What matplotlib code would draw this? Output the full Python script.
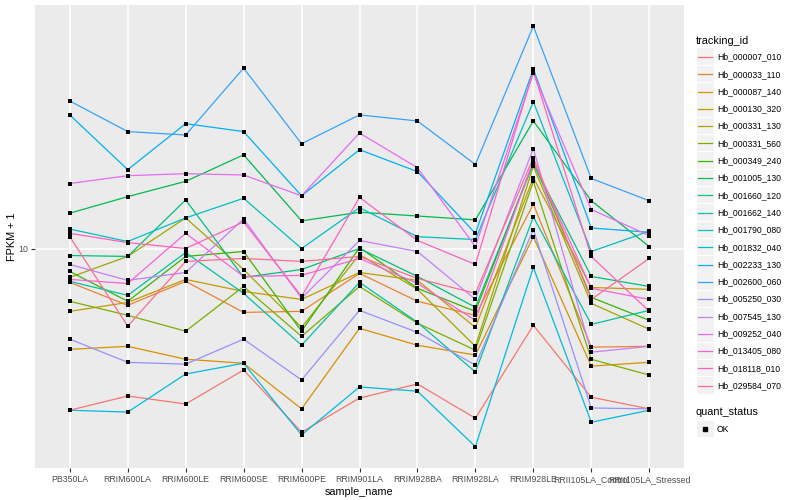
import matplotlib
matplotlib.use("Agg")
import matplotlib.pyplot as plt
from matplotlib.lines import Line2D
from matplotlib.patches import Rectangle

plt.rcParams["font.family"] = ["Liberation Sans", "DejaVu Sans"]

# -------------------------------
# Data (FPKM + 1 per sample)
# -------------------------------

sample_names = [
    "PB350LA", "RRIM600LA", "RRIM600LE", "RRIM600SE", "RRIM600PE",
    "RRIM901LA", "RRIM928BA", "RRIM928LA", "RRIM928LE",
    "RRII105LA_Control", "RRII105LA_Stressed",
]

tracking_ids = [
    "Hb_000007_010", "Hb_000033_110", "Hb_000087_140", "Hb_000130_320",
    "Hb_000331_130", "Hb_000331_560", "Hb_000349_240", "Hb_001005_130",
    "Hb_001660_120", "Hb_001662_140", "Hb_001790_080", "Hb_001832_040",
    "Hb_002233_130", "Hb_002600_060", "Hb_005250_030", "Hb_007545_130",
    "Hb_009252_040", "Hb_013405_080", "Hb_018118_010", "Hb_029584_070",
]

fpkm = [
    [2.71, 3.04, 2.85, 3.75, 2.27, 2.99, 3.35, 2.54, 5.38, 3.01, 2.74],
    [7.61, 6.32, 7.67, 5.97, 6.02, 8.18, 6.53, 5.83, 14.3, 4.51, 4.54],
    [4.43, 4.54, 4.09, 3.96, 2.74, 5.25, 4.58, 4.23, 11.0, 3.87, 3.99],
    [6.02, 6.47, 7.79, 7.07, 6.63, 8.24, 7.73, 5.29, 17.7, 7.30, 7.19],
    [7.92, 9.38, 12.8, 8.44, 5.29, 9.53, 7.19, 4.54, 19.4, 6.42, 5.21],
    [6.53, 5.83, 5.13, 7.36, 4.92, 7.36, 5.47, 4.40, 17.2, 4.09, 3.60],
    [8.31, 6.53, 9.38, 9.76, 5.13, 10.08, 7.25, 6.02, 20.1, 6.74, 5.60],
    [13.3, 15.2, 17.2, 21.3, 12.5, 13.4, 13.0, 12.6, 28.0, 14.7, 10.16],
    [9.45, 9.38, 14.8, 7.92, 8.44, 10.0, 7.98, 6.22, 19.8, 7.98, 7.36],
    [7.67, 6.85, 9.68, 6.96, 4.58, 7.61, 5.51, 3.69, 12.9, 5.42, 6.07],
    [11.7, 10.58, 12.8, 15.0, 10.0, 13.9, 11.0, 10.75, 32.7, 9.76, 11.5],
    [2.71, 2.67, 3.63, 3.96, 2.22, 3.27, 3.16, 2.02, 8.58, 2.46, 2.71],
    [29.4, 18.9, 27.4, 25.7, 15.3, 22.2, 18.6, 11.3, 42.6, 11.8, 11.4],
    [32.9, 25.7, 25.0, 42.9, 23.3, 29.4, 28.0, 19.7, 60.2, 17.6, 14.7],
    [4.81, 3.99, 3.93, 4.81, 3.46, 6.07, 5.08, 3.90, 11.65, 2.76, 2.74],
    [8.79, 7.73, 8.24, 12.7, 6.69, 10.67, 9.76, 6.63, 22.4, 4.33, 4.54],
    [16.9, 18.0, 18.3, 18.1, 15.3, 25.4, 19.2, 10.16, 41.2, 13.7, 11.1],
    [7.79, 7.54, 11.3, 7.98, 8.05, 9.23, 7.54, 5.60, 20.3, 7.25, 6.63],
    [11.3, 10.49, 10.0, 12.4, 6.79, 15.1, 10.67, 8.79, 41.9, 9.38, 6.02],
    [11.0, 5.34, 9.01, 9.23, 9.01, 9.38, 7.85, 6.96, 20.8, 6.63, 9.23],
]

quant_status = ["OK"]

# ggplot default hue palette for 20 levels
colors = [
    "#F8766D", "#EA8331", "#D89000", "#C09B00", "#A3A500", "#7CAE00",
    "#39B600", "#00BB4E", "#00BF7D", "#00C1A3", "#00BFC4", "#00BAE0",
    "#00B0F6", "#35A2FF", "#9590FF", "#C77CFF", "#E76BF3", "#FA62DB",
    "#FF62BC", "#FF6C91",
]

# -------------------------------
# Plot
# -------------------------------

fig = plt.figure(figsize=(8, 5), dpi=100)
ax = fig.add_axes([35 / 800, 1 - 468 / 500, (684 - 35) / 800, (468 - 5) / 500])
ax.set_facecolor("#EBEBEB")

x = list(range(len(sample_names)))

for vals, col in zip(fpkm, colors):
    ax.plot(x, vals, color=col, lw=0.9, zorder=2)

for vals in fpkm:
    ax.scatter(x, vals, marker="s", s=9, color="black", linewidths=0, zorder=3)

ax.set_yscale("log")
ax.set_ylim(1.70, 71.4)
ax.set_xlim(-0.6, len(sample_names) - 0.4)
ax.minorticks_off()
ax.set_yticks([10])
ax.set_yticklabels(["10"])
ax.set_xticks(x)
ax.set_xticklabels(sample_names)

ax.grid(True, color="white", lw=1.1, zorder=0)
ax.set_axisbelow(True)
for s in ax.spines.values():
    s.set_visible(False)

ax.tick_params(axis="both", length=3.2, width=0.8, color="#333333",
               labelcolor="#4D4D4D", labelsize=6.3, pad=2)

ax.set_xlabel("sample_name", fontsize=7.8, labelpad=2)
ax.set_ylabel("FPKM + 1", fontsize=7.8, labelpad=1)

# -------------------------------
# Legends (drawn ggplot style)
# -------------------------------

def fx(px):
    return px / 800


def fy(py):
    return 1 - py / 500


fig.text(fx(696), fy(41), "tracking_id", fontsize=7.8, va="center", ha="left")
for i, (name, col) in enumerate(zip(tracking_ids, colors)):
    yc = 57 + 17.3 * i
    fig.add_artist(Rectangle((fx(697), fy(yc + 8)), fx(16.5), 16.5 / 500,
                             transform=fig.transFigure, color="#F2F2F2", lw=0))
    fig.add_artist(Line2D([fx(698), fx(712)], [fy(yc), fy(yc)],
                          transform=fig.transFigure, color=col, lw=0.9))
    fig.text(fx(717), fy(yc), name, fontsize=6.2, va="center", ha="left")

fig.text(fx(696), fy(412), "quant_status", fontsize=7.8, va="center", ha="left")
for i, status in enumerate(quant_status):
    yc = 429 + 17.3 * i
    fig.add_artist(Rectangle((fx(697), fy(yc + 8)), fx(16.5), 16.5 / 500,
                             transform=fig.transFigure, color="#F2F2F2", lw=0))
    fig.add_artist(Line2D([fx(705)], [fy(yc)], transform=fig.transFigure,
                          marker="s", markersize=2.8, color="black", lw=0))
    fig.text(fx(717), fy(yc), status, fontsize=6.2, va="center", ha="left")

fig.savefig("out.png", dpi=100)
